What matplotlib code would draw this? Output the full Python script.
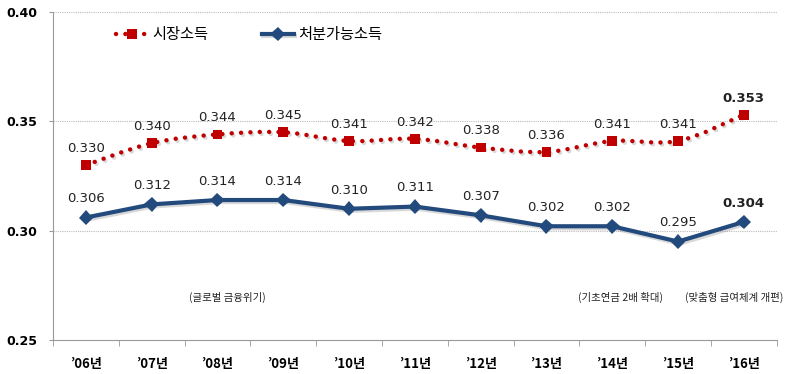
import matplotlib
matplotlib.use("Agg")
import matplotlib.pyplot as plt
import matplotlib.patheffects as pe
from matplotlib.path import Path
from matplotlib.patches import PathPatch
import numpy as np

plt.rcParams['font.family'] = ['Noto Sans CJK KR', 'DejaVu Sans']

categories = ["’06년", "’07년", "’08년", "’09년", "’10년", "’11년",
              "’12년", "’13년", "’14년", "’15년", "’16년"]
market = [0.330, 0.340, 0.344, 0.345, 0.341, 0.342, 0.338, 0.336, 0.341, 0.341, 0.353]
disposable = [0.306, 0.312, 0.314, 0.314, 0.310, 0.311, 0.307, 0.302, 0.302, 0.295, 0.304]
series_names = ["시장소득", "처분가능소득"]
y_ticks = [0.25, 0.30, 0.35, 0.40]
notes = ["(글로벌 금융위기)", "(기초연금 2배 확대)", "(맞춤형 급여체계 개편)"]
note_x = [2.15, 8.13, 9.86]

RED = '#C00000'
BLUE = '#234A7D'

fig = plt.figure(figsize=(7.85, 3.74), dpi=100)
ax = fig.add_axes([0.0675, 0.091, 0.922, 0.877])
x = np.arange(len(categories))

shadow = [pe.SimpleLineShadow(offset=(1.2, -1.5), shadow_color='#808080', alpha=0.3), pe.Normal()]

# smooth red curve (Catmull-Rom -> Bezier)
verts = [(x[0], market[0])]
codes = [Path.MOVETO]
pts = list(zip(x, market))
for i in range(len(pts) - 1):
    p0 = pts[i - 1] if i > 0 else pts[i]
    p1 = pts[i]
    p2 = pts[i + 1]
    p3 = pts[i + 2] if i + 2 < len(pts) else pts[i + 1]
    c1 = (p1[0] + (p2[0] - p0[0]) / 6, p1[1] + (p2[1] - p0[1]) / 6)
    c2 = (p2[0] - (p3[0] - p1[0]) / 6, p2[1] - (p3[1] - p1[1]) / 6)
    verts += [c1, c2, p2]
    codes += [Path.CURVE4] * 3
patch = PathPatch(Path(verts, codes), fill=False, edgecolor=RED, lw=3.2,
                  linestyle=(0, (0.01, 2.1)), capstyle='round', path_effects=shadow, zorder=3)
ax.add_patch(patch)
ax.plot(x, market, linestyle='none', marker='s', ms=7, mew=0, color=RED, zorder=4, path_effects=shadow)
ax.plot([], [], color=RED, lw=3.2, dashes=(0.01, 2.1), dash_capstyle='round',
        marker='s', ms=7, mew=0, label=series_names[0])

ax.plot(x, disposable, color=BLUE, lw=3, marker='D', ms=7.5, mew=0, zorder=4,
        path_effects=shadow, label=series_names[1])

for i, v in enumerate(market):
    ax.annotate(f"{v:.3f}", (x[i], v), xytext=(0, 12), textcoords='offset points',
                ha='center', va='center', fontsize=9.5, color='#222222',
                fontweight='bold' if i == len(market) - 1 else 'normal', family='DejaVu Sans')
for i, v in enumerate(disposable):
    ax.annotate(f"{v:.3f}", (x[i], v), xytext=(0, 13.5), textcoords='offset points',
                ha='center', va='center', fontsize=9.5, color='#222222',
                fontweight='bold' if i == len(disposable) - 1 else 'normal', family='DejaVu Sans')

for t, nx in zip(notes, note_x):
    ax.text(nx, 0.2695, t, ha='center', va='center', fontsize=7.5, color='#222222')

ax.set_xlim(-0.5, len(categories) - 0.5)
ax.set_ylim(0.25, 0.40)
ax.set_yticks(y_ticks)
ax.set_yticklabels([f"{v:.2f}" for v in y_ticks], fontweight='bold', fontsize=9, family='DejaVu Sans')
ax.set_xticks(x)
ax.set_xticklabels(categories, fontweight='bold', fontsize=9.5)
ax.set_xticks(np.arange(-0.5, len(categories)), minor=True)
ax.tick_params(axis='x', which='major', length=0, pad=12)
ax.tick_params(axis='x', which='minor', length=4, color='#999999', direction='out')
ax.tick_params(axis='y', length=3, color='#999999', pad=8)
for yv in y_ticks[1:]:
    ax.axhline(yv, color='#BBBBBB', lw=0.8, ls=(0, (1, 1)), zorder=1)
for s in ['top', 'right']:
    ax.spines[s].set_visible(False)
for s in ['left', 'bottom']:
    ax.spines[s].set_color('#999999')

leg = ax.legend(loc='upper left', bbox_to_anchor=(0.078, 0.975), borderaxespad=0, ncol=2,
                frameon=False, fontsize=11, handlelength=2.1, columnspacing=3.5,
                handletextpad=0.3)

fig.savefig('out.png', dpi=100)
